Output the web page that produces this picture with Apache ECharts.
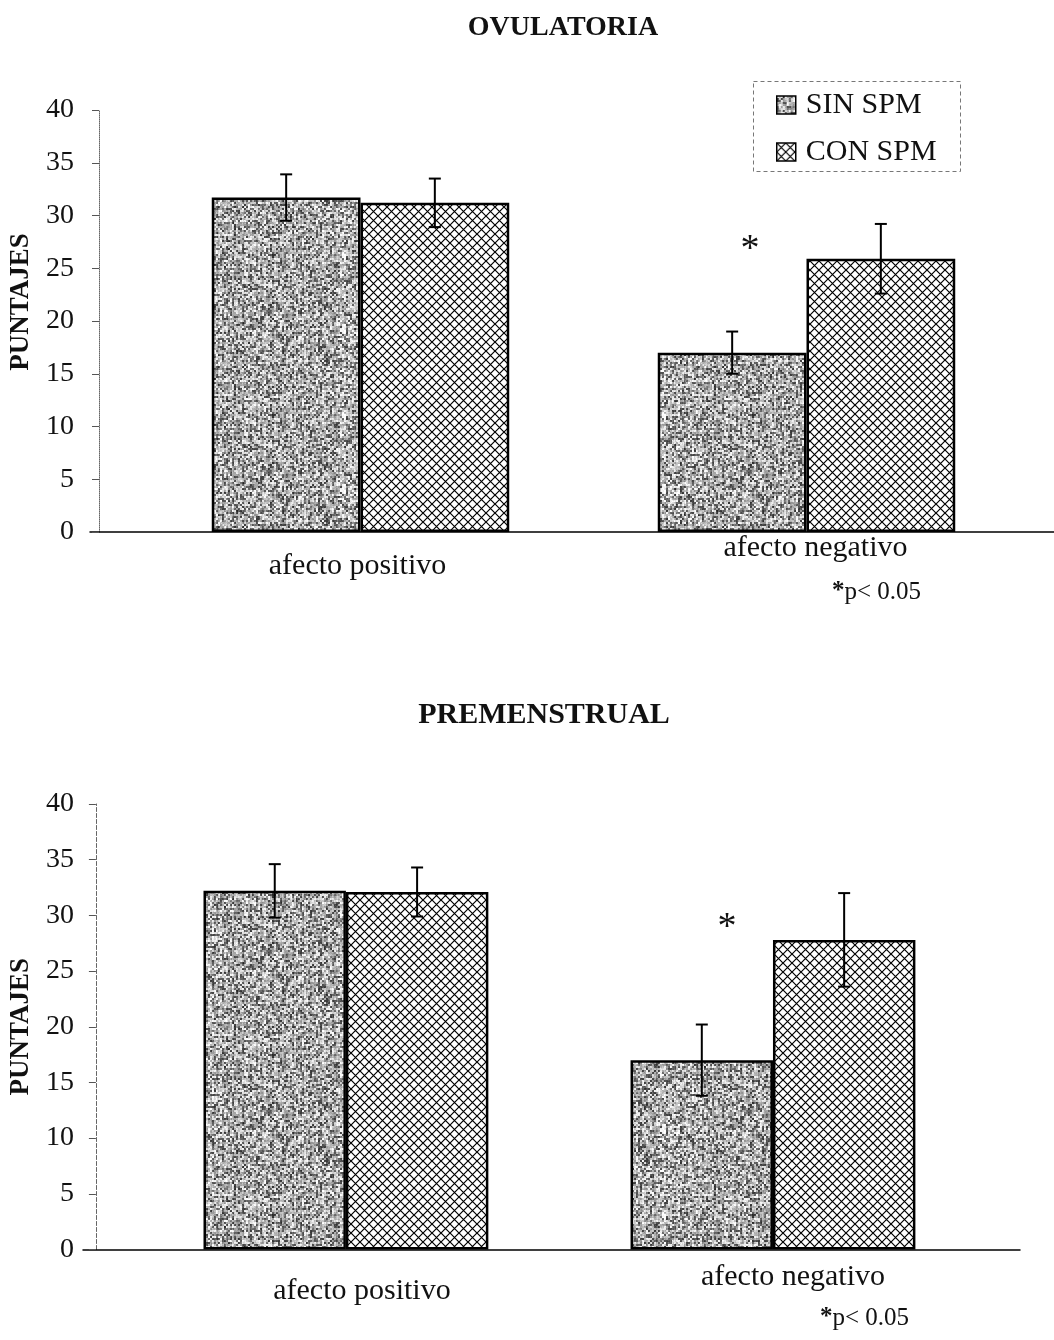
<!DOCTYPE html>
<html>
<head>
<meta charset="utf-8">
<script src="https://cdn.jsdelivr.net/npm/echarts@6/dist/echarts.min.js"></script>
<style>
  html, body { margin: 0; padding: 0; background: #fff; }
  #chart { width: 1054px; height: 1340px; }
</style>
</head>
<body>
<div id="chart"></div>
<script>
// Categories and group means / error half-widths
const categories = ['afecto positivo', 'afecto negativo'];
const seriesNames = ['SIN SPM', 'CON SPM'];
const yTicks = { min: 0, max: 40, interval: 5 };

// Fase ovulatoria
const ovuSin = [31.7, 17.0];
const ovuSinErr = [2.2, 2.0];
const ovuCon = [31.2, 25.9];
const ovuConErr = [2.3, 3.3];

// Fase premenstrual
const preSin = [32.2, 17.0];
const preSinErr = [2.4, 3.2];
const preCon = [32.1, 27.8];
const preConErr = [2.2, 4.2];

const FONT = "'Liberation Serif', 'Times New Roman', serif";
const INK = '#111';

// Grainy gray fill (seeded, so the texture is identical on every load)
function grainTexture() {
  const size = 160;
  const c = document.createElement('canvas');
  c.width = size; c.height = size;
  const ctx = c.getContext('2d');
  const img = ctx.createImageData(size, size);
  let a = 0x9e3779b9;
  const next = () => {
    a = (a + 0x6d2b79f5) | 0;
    let t = Math.imul(a ^ (a >>> 15), 1 | a);
    t = (t + Math.imul(t ^ (t >>> 7), 61 | t)) ^ t;
    return ((t ^ (t >>> 14)) >>> 0) / 4294967296;
  };
  const streak = [];
  for (let x = 0; x < size; x++) streak.push((next() - 0.5) * 30);
  const cw = 2, ch = 2;
  const cells = [];
  for (let j = 0; j < size / ch; j++) {
    const row = [];
    for (let i = 0; i < size / cw; i++) {
      const r = next();
      row.push(r < 0.3 ? 60 + next() * 60 : r < 0.7 ? 150 + next() * 50 : 215 + next() * 35);
    }
    cells.push(row);
  }
  for (let y = 0; y < size; y++) {
    for (let x = 0; x < size; x++) {
      let v = cells[Math.floor(y / ch)][Math.floor(x / cw)] + streak[x] + (next() - 0.5) * 30;
      v = Math.max(0, Math.min(255, v));
      const k = (y * size + x) * 4;
      img.data[k] = img.data[k + 1] = img.data[k + 2] = v;
      img.data[k + 3] = 255;
    }
  }
  ctx.putImageData(img, 0, 0);
  return c;
}

// Diagonal crosshatch fill
function hatchTexture() {
  const s = 9;
  const c = document.createElement('canvas');
  c.width = s; c.height = s;
  const ctx = c.getContext('2d');
  ctx.fillStyle = '#fff';
  ctx.fillRect(0, 0, s, s);
  ctx.strokeStyle = '#000';
  ctx.lineWidth = 1.2;
  ctx.beginPath();
  ctx.moveTo(-1, -1); ctx.lineTo(s + 1, s + 1);
  ctx.moveTo(s + 1, -1); ctx.lineTo(-1, s + 1);
  ctx.stroke();
  return c;
}

const grainFill = { image: grainTexture(), repeat: 'repeat' };
const hatchFill = { image: hatchTexture(), repeat: 'repeat' };

function errorRows(sin, sinErr, con, conErr) {
  const rows = [];
  categories.forEach((_, i) => {
    rows.push([i, sin[i], sinErr[i], 0]);
    rows.push([i, con[i], conErr[i], 1]);
  });
  return rows;
}

// Error bar with caps, centred on its bar (each bar is one third of the band)
function renderError(params, api) {
  const cat = api.value(0), val = api.value(1), err = api.value(2), slot = api.value(3);
  const band = api.size([1, 0])[0];
  const base = api.coord([cat, val]);
  const x = base[0] + (slot === 0 ? -band / 6 : band / 6);
  const yTop = api.coord([cat, val + err])[1];
  const yBot = api.coord([cat, val - err])[1];
  const half = 6;
  const style = { stroke: '#000', lineWidth: 2 };
  return {
    type: 'group',
    children: [
      { type: 'line', shape: { x1: x, y1: yTop, x2: x, y2: yBot }, style },
      { type: 'line', shape: { x1: x - half, y1: yTop, x2: x + half, y2: yTop }, style },
      { type: 'line', shape: { x1: x - half, y1: yBot, x2: x + half, y2: yBot }, style }
    ]
  };
}

function barSeries(name, data, fill, axisIdx) {
  return {
    type: 'bar', name, data,
    xAxisIndex: axisIdx, yAxisIndex: axisIdx,
    barGap: '0%', barCategoryGap: '33.3%',
    itemStyle: { color: fill, borderColor: '#000', borderWidth: 2.5 },
    z: 2
  };
}

function valueAxis(gridIndex, offset, lineType, margin, namePad, nameGap) {
  return {
    gridIndex, type: 'value', min: yTicks.min, max: yTicks.max, interval: yTicks.interval,
    offset,
    axisLine: { show: true, lineStyle: { color: '#666', type: lineType, width: 1 } },
    axisTick: { show: true, length: 7, lineStyle: { color: '#555', width: 1 } },
    axisLabel: { fontSize: 28, fontFamily: FONT, color: INK, margin },
    splitLine: { show: false },
    name: 'PUNTAJES', nameLocation: 'middle', nameGap,
    nameTextStyle: { fontSize: 27, fontWeight: 'bold', fontFamily: FONT, color: INK, padding: namePad }
  };
}

function categoryAxis(gridIndex, margin, richP, richN) {
  return {
    gridIndex, type: 'category', data: categories,
    axisLine: { show: false }, axisTick: { show: false },
    axisLabel: {
      margin, interval: 0,
      formatter: (v) => (v === categories[0] ? '{p|' + v + '}' : '{n|' + v + '}'),
      rich: {
        p: Object.assign({ fontSize: 30, fontFamily: FONT, color: INK }, richP),
        n: Object.assign({ fontSize: 30, fontFamily: FONT, color: INK }, richN)
      }
    }
  };
}

// Plain baseline spanning the full width under each panel
function baselineAxes(gridIndex) {
  return {
    x: {
      gridIndex, type: 'value', min: 0, max: 1,
      axisLine: { show: true, lineStyle: { color: '#000', width: 1.5 } },
      axisTick: { show: false }, axisLabel: { show: false }, splitLine: { show: false }
    },
    y: { gridIndex, type: 'value', show: false, min: 0, max: 1 }
  };
}

const topBase = baselineAxes(1);
const botBase = baselineAxes(3);

const starStyle = { text: '*', fontSize: 38, fontFamily: FONT, fill: INK, align: 'center', verticalAlign: 'middle' };

const option = {
  backgroundColor: '#fff',
  animation: false,
  title: [
    { text: 'OVULATORIA', left: 563, top: 14, padding: 0, textAlign: 'center',
      textStyle: { fontSize: 28, fontWeight: 'bold', fontFamily: FONT, color: INK } },
    { text: 'PREMENSTRUAL', left: 544, top: 700, padding: 0, textAlign: 'center',
      textStyle: { fontSize: 30, fontWeight: 'bold', fontFamily: FONT, color: INK } }
  ],
  legend: {
    data: seriesNames, orient: 'vertical', left: 753, top: 81,
    padding: [9, 25, 6, 23], itemGap: 17, itemWidth: 19, itemHeight: 18,
    icon: 'rect', selectedMode: false,
    itemStyle: { borderColor: '#000', borderWidth: 1.5 },
    textStyle: { fontSize: 30, fontFamily: FONT, color: INK, padding: [0, 0, 0, 5] }
  },
  grid: [
    { left: 135.5, right: 24.5, top: 110, height: 422 },
    { left: 90, right: 0, top: 110, height: 422 },
    { left: 128.5, right: 67.5, top: 804, height: 445.5 },
    { left: 83, right: 34, top: 804, height: 445.5 }
  ],
  xAxis: [
    categoryAxis(0, 1, { padding: [18, 6, 0, 0] }, { padding: [0, 0, 0, 18] }),
    topBase.x,
    categoryAxis(2, 13, { padding: [14, 0, 0, 32] }, { padding: [0, 0, 0, 40] }),
    botBase.x
  ],
  yAxis: [
    valueAxis(0, 38.5, 'dotted', 25, [0, 0, 0, 38], 64),
    topBase.y,
    valueAxis(2, 36.5, 'dashed', 22, [0, 0, 0, 0], 60),
    botBase.y
  ],
  series: [
    barSeries(seriesNames[0], ovuSin, grainFill, 0),
    barSeries(seriesNames[1], ovuCon, hatchFill, 0),
    {
      type: 'custom', name: 'error-ovu', xAxisIndex: 0, yAxisIndex: 0,
      data: errorRows(ovuSin, ovuSinErr, ovuCon, ovuConErr),
      encode: { x: 0, y: 1 }, renderItem: renderError, z: 5, silent: true
    },
    barSeries(seriesNames[0], preSin, grainFill, 2),
    barSeries(seriesNames[1], preCon, hatchFill, 2),
    {
      type: 'custom', name: 'error-pre', xAxisIndex: 2, yAxisIndex: 2,
      data: errorRows(preSin, preSinErr, preCon, preConErr),
      encode: { x: 0, y: 1 }, renderItem: renderError, z: 5, silent: true
    }
  ],
  graphic: [
    // dashed frame around the legend
    { type: 'rect', shape: { x: 753.5, y: 81.5, width: 207, height: 90 },
      style: { fill: 'none', stroke: '#777', lineWidth: 1, lineDash: [4, 3] }, z: 10 },
    // significance marks
    { type: 'text', x: 750, y: 250, style: starStyle },
    { type: 'text', x: 727, y: 928, style: starStyle },
    { type: 'text', x: 832, y: 592, style: {
        text: '{b|*}p< 0.05', fontSize: 25, fontFamily: FONT, fill: INK, verticalAlign: 'middle',
        rich: { b: { fontSize: 25, fontWeight: 'bold', fontFamily: FONT, fill: INK } } } },
    { type: 'text', x: 820, y: 1318, style: {
        text: '{b|*}p< 0.05', fontSize: 25, fontFamily: FONT, fill: INK, verticalAlign: 'middle',
        rich: { b: { fontSize: 25, fontWeight: 'bold', fontFamily: FONT, fill: INK } } } }
  ]
};

const chart = echarts.init(document.getElementById('chart'), null, { renderer: 'canvas' });
chart.setOption(option);
</script>
</body>
</html>
